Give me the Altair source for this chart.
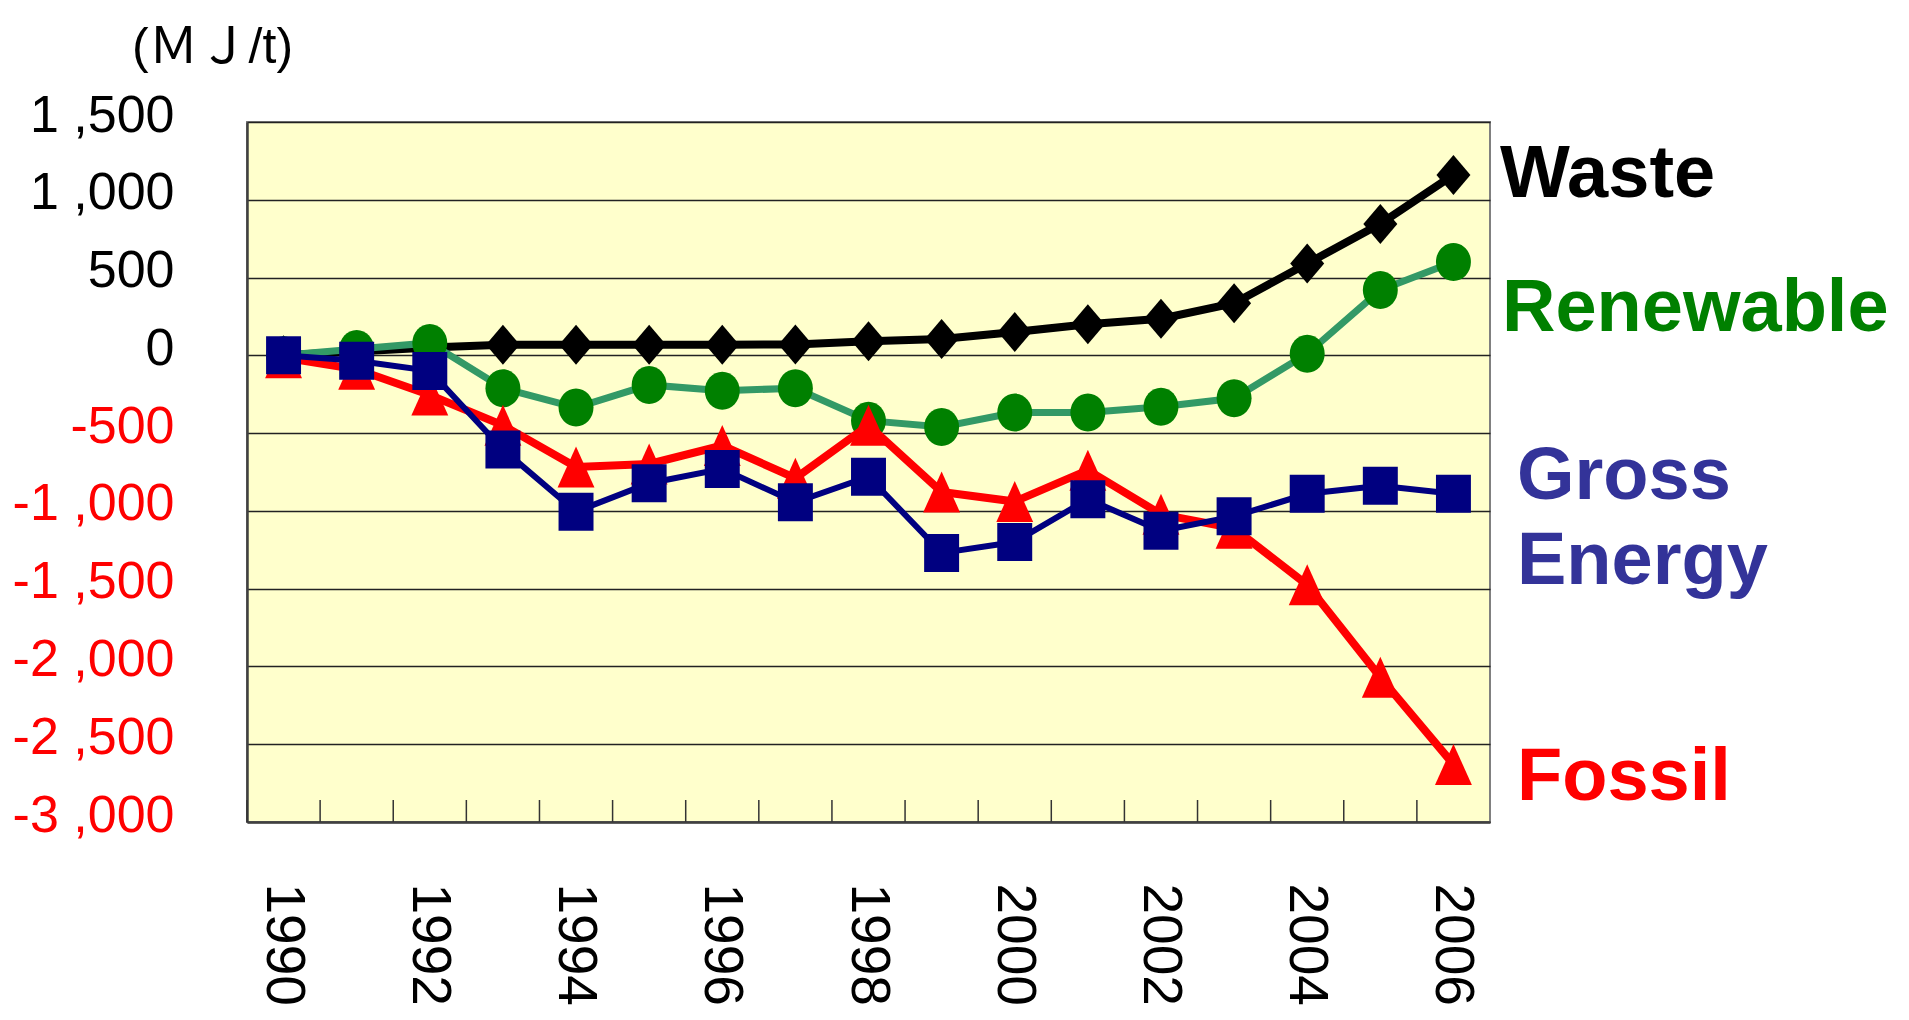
import altair as alt
import pandas as pd

years = list(range(1990, 2007))
label_years = [1990, 1992, 1994, 1996, 1998, 2000, 2002, 2004, 2006]
y_ticks = [-3000, -2500, -2000, -1500, -1000, -500, 0, 500, 1000, 1500]

waste = [0, 25, 50, 68, 68, 68, 68, 70, 90, 105, 150, 200, 235, 335, 590, 845, 1160]
renewable = [0, 40, 80, -212, -336, -190, -227, -212, -420, -460, -368, -368, -330, -276, 10, 420, 600]
fossil = [-15, -90, -255, -450, -718, -698, -580, -790, -450, -878, -940, -738, -1022, -1112, -1475, -2070, -2630]
gross = [0, -35, -100, -605, -1005, -822, -730, -945, -780, -1270, -1200, -925, -1128, -1035, -890, -838, -890]

series_names = ["Waste", "Renewable", "Fossil", "Gross Energy"]
series_values = [waste, renewable, fossil, gross]
line_colors = ["#000000", "#339966", "#FF0000", "#000080"]
marker_colors = ["#000000", "#008000", "#FF0000", "#000080"]
marker_shapes = [
    "M0,-1L0.85,0L0,1L-0.85,0Z",
    "M0,-1A0.92,1 0 1,1 0,1A0.92,1 0 1,1 0,-1Z",
    "M0,-1L0.9,1L-0.9,1Z",
    "M-0.92,-1L0.92,-1L0.92,1L-0.92,1Z",
]
marker_sizes = [1600, 1444, 1681, 1444]
line_widths = [8, 7, 8, 6]

label_texts = ["Waste", "Renewable", "Gross", "Energy", "Fossil"]
label_colors = ["#000000", "#008000", "#333399", "#333399", "#FF0000"]
label_x = [1253, 1255, 1270, 1270, 1270]
label_y = [75, 209, 377, 462, 678]

W, H = 1243, 700

x_enc = alt.X(
    "year:O",
    scale=alt.Scale(type="band", paddingInner=0, paddingOuter=0),
    axis=alt.Axis(
        values=label_years,
        labelAngle=90,
        labelAlign="left",
        labelBaseline="middle",
        labelFont="Liberation Sans",
        labelFontSize=55,
        labelColor="#000000",
        labelPadding=61,
        labelLimit=0,
        ticks=False,
        grid=False,
        domainColor="#404040",
        domainWidth=2.5,
        title=None,
        labelOverlap=False,
    ),
)

y_enc = alt.Y(
    "value:Q",
    scale=alt.Scale(domain=[-3000, 1500], nice=False, zero=False),
    axis=alt.Axis(
        values=y_ticks,
        labelExpr="replace((datum.value < 0 ? '-' : '') + format(abs(datum.value), ','), ',', ' ,')",
        labelFont="Liberation Sans",
        labelFontSize=52,
        labelColor={"condition": {"test": "datum.value < 0", "value": "#FF0000"}, "value": "#000000"},
        labelPadding=73,
        labelLimit=0,
        labelBaseline="alphabetic",
        labelOffset=9,
        labelFlush=False,
        labelOverlap=False,
        ticks=False,
        grid=True,
        gridColor="#222222",
        gridWidth=1.3,
        domainColor="#404040",
        domainWidth=2.5,
        title="(ＭＪ/t)",
        titleAngle=0,
        titleX=-35,
        titleY=-60,
        titleAlign="center",
        titleBaseline="alphabetic",
        titleFont="Liberation Sans, Noto Sans CJK JP",
        titleFontSize=50,
        titleFontWeight="normal",
        titleColor="#000000",
        titleLimit=0,
    ),
)

layers = []

# inward x ticks at band boundaries
tick_df = pd.DataFrame({"year": years, "value": [0] * len(years)})
layers.append(
    alt.Chart(tick_df)
    .mark_rule(color="#333333", strokeWidth=1.5)
    .encode(x=alt.X("year:O", bandPosition=0), y=alt.value(H - 22), y2=alt.value(H))
)

for name, vals, lc, mc, shp, sz, lw in zip(
    series_names, series_values, line_colors, marker_colors, marker_shapes, marker_sizes, line_widths
):
    df = pd.DataFrame({"year": years, "value": vals, "series": name})
    base = alt.Chart(df).encode(x=x_enc, y=y_enc)
    layers.append(base.mark_line(color=lc, strokeWidth=lw))
    layers.append(base.mark_point(shape=shp, size=sz, filled=True, color=mc, opacity=1))

for t, c, lx, ly in zip(label_texts, label_colors, label_x, label_y):
    layers.append(
        alt.Chart(alt.Data(values=[{"t": t}]))
        .mark_text(
            font="Liberation Sans",
            fontWeight="bold",
            fontSize=74,
            align="left",
            baseline="alphabetic",
            color=c,
        )
        .encode(x=alt.value(lx), y=alt.value(ly), text="t:N")
    )

chart = (
    alt.layer(*layers)
    .properties(
        width=W,
        height=H,
        padding={"left": 239, "top": 114, "right": 400, "bottom": 185},
        autosize=alt.AutoSizeParams(type="none"),
        background="#FFFFFF",
    )
    .configure_view(fill="#FFFFCC", stroke="#808080", strokeWidth=2)
)

chart.save("out.html", embed_options={"renderer": "svg", "actions": False})
